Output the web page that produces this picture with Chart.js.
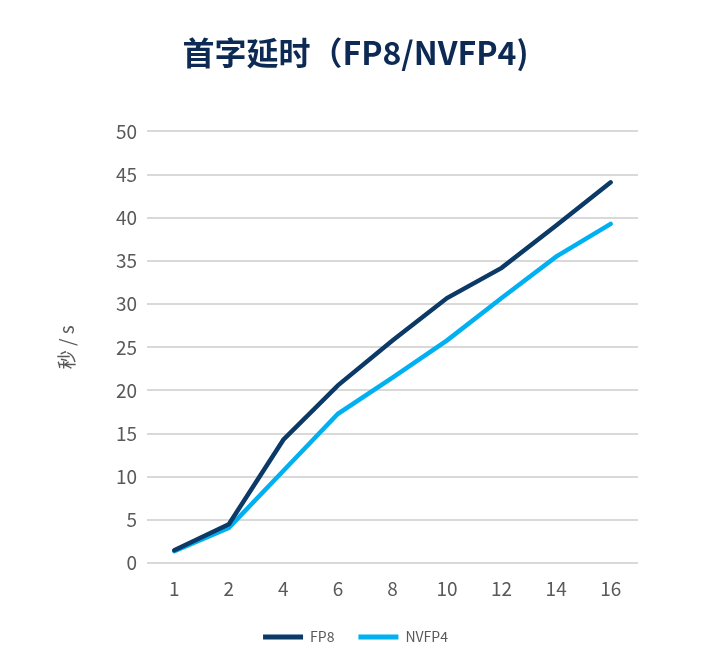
<!DOCTYPE html>
<html>
<head>
<meta charset="utf-8">
<script src="https://cdn.jsdelivr.net/npm/chart.js@4"></script>
<style>
  html, body { margin: 0; padding: 0; background: #fff; }
  #wrap { width: 718px; height: 672px; }
</style>
</head>
<body>
<div id="wrap"><canvas id="charts" width="718" height="672"></canvas></div>
<script>
var labels = ['1', '2', '4', '6', '8', '10', '12', '14', '16'];
var fp8 = [1.5, 4.5, 14.3, 20.6, 25.8, 30.7, 34.2, 39.1, 44.1];
var nvfp4 = [1.4, 4.1, 10.7, 17.3, 21.5, 25.8, 30.7, 35.5, 39.3];
var titleText = '首字延时（FP8/NVFP4)';
var yTitle = '秒 / s';

var font = '"Noto Sans CJK SC", "Noto Sans", sans-serif';
var gray = '#595959';

var ctx = document.getElementById('charts');
new Chart(ctx, {
    type: 'line',
    data: {
        labels: labels,
        datasets: [{
            label: 'FP8',
            data: fp8,
            borderColor: '#0b3a66',
            backgroundColor: '#0b3a66',
            borderWidth: 4.5,
            borderCapStyle: 'round',
            pointRadius: 0,
            tension: 0
        }, {
            label: 'NVFP4',
            data: nvfp4,
            borderColor: '#00b0f0',
            backgroundColor: '#00b0f0',
            borderWidth: 4.5,
            borderCapStyle: 'round',
            pointRadius: 0,
            tension: 0
        }]
    },
    options: {
        responsive: false,
        animation: false,
        layout: { padding: { left: 55, right: 62, top: 34, bottom: 18 } },
        plugins: {
            title: {
                display: true,
                text: titleText,
                color: '#0d2a55',
                font: { family: font, size: 32, weight: 'bold' },
                padding: { top: 0, bottom: 59 }
            },
            legend: {
                position: 'bottom',
                labels: {
                    boxWidth: 40,
                    boxHeight: 5,
                    color: gray,
                    padding: 24,
                    font: { family: font, size: 14 },
                    generateLabels: function (chart) {
                        return chart.data.datasets.map(function (ds, i) {
                            return {
                                text: ds.label,
                                fillStyle: ds.borderColor,
                                strokeStyle: ds.borderColor,
                                lineWidth: 0,
                                fontColor: gray,
                                datasetIndex: i
                            };
                        });
                    }
                }
            },
            tooltip: { enabled: false }
        },
        scales: {
            x: {
                offset: true,
                grid: { display: false },
                border: { display: false },
                ticks: { color: gray, font: { family: font, size: 19 }, padding: 6 }
            },
            y: {
                min: 0,
                max: 50,
                ticks: { stepSize: 5, color: gray, font: { family: font, size: 19 }, padding: 10 },
                grid: { color: '#d9d9d9', lineWidth: 2, drawTicks: false },
                border: { display: false },
                title: {
                    display: true,
                    text: yTitle,
                    color: gray,
                    font: { family: font, size: 19 },
                    padding: { top: 0, bottom: 32 }
                },
                afterFit: function (scale) { scale.width = 92; }
            },
            yRight: {
                position: 'right',
                grid: { display: false },
                border: { display: false },
                ticks: { display: false },
                afterFit: function (scale) { scale.width = 18; }
            }
        }
    }
});
</script>
</body>
</html>
